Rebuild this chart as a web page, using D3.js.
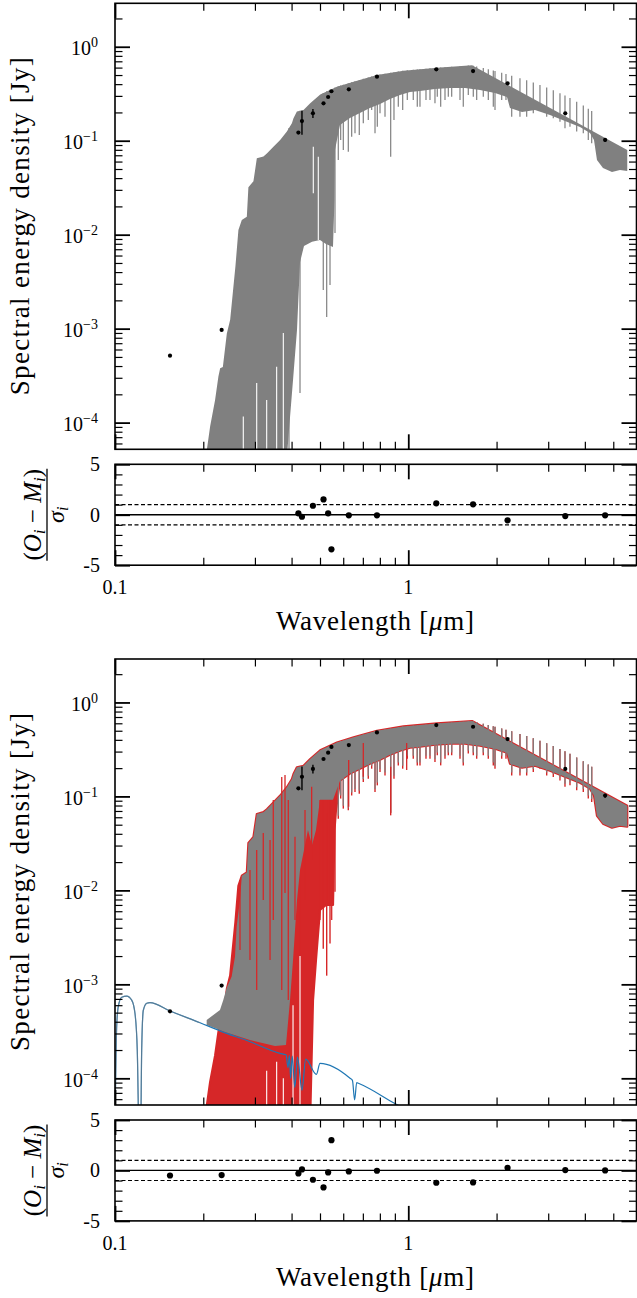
<!DOCTYPE html>
<html>
<head>
<meta charset="utf-8">
<script src="https://cdn.jsdelivr.net/npm/d3@7"></script>
<style>
body { margin: 0; background: #fff; }
svg { display: block; }
</style>
</head>
<body>
<svg id="chart" width="637" height="1298"></svg>
<script>
// photometry (wavelength in micron, flux in Jy)
var photWl  = [0.154, 0.231, 0.422, 0.434, 0.473, 0.514, 0.533, 0.547, 0.627, 0.782, 1.246, 1.663, 2.18, 3.43, 4.69];
var photF   = [5.16e-4, 9.7e-4, 0.122, 0.162, 0.196, 0.25, 0.292, 0.336, 0.352, 0.48, 0.575, 0.551, 0.408, 0.196, 0.102];
var photErr = [0, 0, 0, 0.046, 0.021, 0, 0, 0, 0, 0, 0, 0, 0, 0, 0.005];

// residuals (O-M)/sigma
var residSingleWl = photWl.slice(2);
var residSingle = [0.14, -0.2, 0.89, 1.52, 0.14, -3.43, -0.06, -0.06, 1.13, 1.03, -0.55, -0.13, -0.06];
var residBinary = [-0.5, -0.46, -0.3, 0.1, -0.92, -1.68, -0.2, 3.0, -0.1, -0.03, -1.22, -1.19, 0.27, 0.04, 0.0];

// cool star model: upper edge and solid lower edge of the dense spectrum
var starUpperWl = [0.2056, 0.2110, 0.2194, 0.2252, 0.2283, 0.2332, 0.2406, 0.2470, 0.2574, 0.2635, 0.2706, 0.2815, 0.2850, 0.2965, 0.3045, 0.3207, 0.3294, 0.3469, 0.3657, 0.3855, 0.4010, 0.4060, 0.4170, 0.4393, 0.4630, 0.5009, 0.571, 0.651, 0.782, 0.963, 1.253, 1.650, 5.58];
var starUpperF  = [5.1e-5, 9.1e-5, 1.74e-4, 3.1e-4, 3.8e-4, 3.9e-4, 8.9e-4, 1.24e-3, 4.6e-3, 1.12e-2, 1.43e-2, 1.55e-2, 3.2e-2, 3.7e-2, 6.5e-2, 6.8e-2, 7.3e-2, 8.6e-2, 0.102, 0.125, 0.153, 0.173, 0.204, 0.212, 0.25, 0.31, 0.375, 0.425, 0.50, 0.556, 0.598, 0.634, 0.0796];
var starLowerWl = [0.2054, 0.3828, 0.3920, 0.4046, 0.4174, 0.4274, 0.4410, 0.4696, 0.4999, 0.5241, 0.5537, 0.5603, 0.5625, 0.5849, 0.6325, 0.6841, 0.7400, 0.8009, 0.8661, 0.9369, 1.0134, 1.0962, 1.2331, 1.3876, 1.5611, 1.7562, 1.9755, 2.1703, 2.2220, 2.4421, 2.7040, 3.0414, 3.4222, 3.8499, 4.1648, 4.2971, 4.3992, 4.6116, 4.9490, 5.2697, 5.58];
var starLowerF  = [3.1e-5, 3.1e-5, 8.4e-5, 2.84e-4, 9.7e-4, 5.1e-3, 7.6e-3, 8.4e-3, 8.8e-3, 7.95e-3, 7.4e-3, 2.34e-2, 0.0797, 0.147, 0.175, 0.197, 0.223, 0.246, 0.278, 0.307, 0.330, 0.338, 0.355, 0.364, 0.364, 0.347, 0.322, 0.292, 0.223, 0.202, 0.212, 0.188, 0.162, 0.140, 0.121, 0.102, 0.0623, 0.0513, 0.0465, 0.0488, 0.0476];
// single absorption lines below the solid edge: wavelength, deepest flux
var starLineWl = [0.3920, 0.4274, 0.5130, 0.5270, 0.5409, 0.5625, 0.5772, 0.5882, 0.6004, 0.6244, 0.6412, 0.6581, 0.6806, 0.7024, 0.7305, 0.7503, 0.7701, 0.7841, 0.8009, 0.8330, 0.8710, 0.8938, 0.9246, 0.9571, 0.9922, 1.0399, 1.0732, 1.0962, 1.1491, 1.1858, 1.2331, 1.2557, 1.2897, 1.3341, 1.3692, 1.4061, 1.5008, 1.5400, 1.6018, 1.6659, 1.7110, 1.8020, 1.8743, 1.9493, 1.9755, 2.0821, 2.1534, 2.2524, 2.4033, 2.5334, 2.6683, 2.8119, 2.9644, 3.1220, 3.2902, 3.4222, 3.5591, 3.7517, 3.9512, 4.1092, 4.2207];
var starLineF  = [4e-5, 2.07e-4, 2.58e-3, 1.33e-3, 2.92e-3, 1.04e-2, 0.0623, 0.102, 0.0797, 0.0764, 0.110, 0.120, 0.115, 0.153, 0.166, 0.212, 0.120, 0.141, 0.196, 0.180, 0.0676, 0.166, 0.230, 0.212, 0.271, 0.271, 0.230, 0.230, 0.271, 0.271, 0.250, 0.294, 0.230, 0.271, 0.294, 0.294, 0.271, 0.230, 0.307, 0.294, 0.271, 0.294, 0.271, 0.230, 0.212, 0.271, 0.271, 0.180, 0.180, 0.180, 0.196, 0.212, 0.180, 0.173, 0.159, 0.136, 0.141, 0.125, 0.120, 0.102, 0.0939];
// narrow gaps between lines: wavelength, top flux, bottom flux
var gapWl  = [0.2738, 0.3042, 0.3290, 0.3558, 0.3749, 0.4744, 0.4934];
var gapTop = [1.16e-4, 2.64e-4, 1.74e-4, 3.94e-4, 9e-4, 0.0863, 0.0676];
var gapBot = [3e-5, 3e-5, 3e-5, 3e-5, 3e-5, 0.0276, 8.8e-3];

// star + white dwarf total (grey in the lower figure)
var totUpperUvWl = [0.2054, 0.2164, 0.2280, 0.2340, 0.2403, 0.2499, 0.2565, 0.2599, 0.2668];
var totUpperUvF  = [4.18e-4, 4.72e-4, 5.33e-4, 6.82e-4, 9.15e-4, 1.21e-3, 1.97e-3, 4.1e-3, 7.9e-3];
var totLowerWl = [0.2054, 0.2371, 0.2886, 0.3512, 0.3828, 0.3952, 0.4046, 0.4174, 0.4274, 0.4410, 0.4550, 0.4696, 0.4845, 0.4999, 0.5537];
var totLowerF  = [3.7e-4, 3.11e-4, 2.56e-4, 2.21e-4, 2.26e-4, 6.8e-4, 1.82e-3, 7.9e-3, 1.65e-2, 2.69e-2, 4.4e-2, 3.04e-2, 4.4e-2, 9.2e-2, 9.2e-2];

// star component in the lower figure (red): its own lower edge in the blue
var redLowerWl = [0.2054, 0.4623, 0.4733, 0.4845, 0.4999, 0.5241, 0.5537, 0.5603, 0.5669];
var redLowerF  = [3.1e-5, 3.1e-5, 6.8e-4, 1.82e-3, 6.2e-3, 7.0e-3, 7.0e-3, 0.044, 0.0717];
// red lines seen on top of the grey total
var redLineWl  = [0.2668, 0.2886, 0.3042, 0.3203, 0.3378, 0.3465, 0.3703, 0.3799, 0.3898, 0.4109, 0.4445, 0.4683, 0.4999, 0.5270, 0.5481, 0.6263, 0.7025, 0.871, 0.9875];
var redLineTop = [1.29e-2, 0.0165, 0.0269, 0.0408, 0.0344, 0.0916, 0.161, 0.169, 0.0916, 0.0373, 0.0717, 0.127, 0.0916, 0.0666, 0.0476, 0.244, 0.37, 0.207, 0.37];
var redLineBot = [2.32e-3, 1.82e-3, 8.7e-4, 7.9e-3, 1.82e-3, 4.84e-3, 8.7e-4, 9.4e-3, 6.8e-4, 4.84e-3, 7.9e-3, 0.021, 4.84e-3, 7.9e-3, 4.84e-3, 0.0778, 0.162, 0.0666, 0.191];
// gaps in the red below the white dwarf level
var redGapWl  = [0.3290, 0.3558, 0.3749, 0.4046, 0.4274];
var redGapTop = [1.2e-4, 1.5e-4, 1.0e-4, 6e-4, 2e-3];
var redGapBot = [3e-5, 3e-5, 3e-5, 3e-5, 3e-5];

// white dwarf model
var wdWl = [0.1000, 0.1013, 0.1026, 0.1054, 0.1096, 0.1140, 0.1170, 0.1191, 0.1210, 0.1222, 0.1233, 0.1249, 0.1283, 0.1316, 0.154, 0.195, 0.228, 0.289, 0.365, 0.383, 0.3889, 0.393, 0.3970, 0.402, 0.4102, 0.419, 0.4341, 0.447, 0.4861, 0.50, 0.633, 0.645, 0.6563, 0.667, 0.676, 0.9, 1.0];
var wdF  = [3e-5, 3.5e-4, 5.8e-4, 7.3e-4, 7.5e-4, 6.8e-4, 4.9e-4, 2.0e-4, 2e-5, 2e-5, 2.0e-4, 5.3e-4, 6.3e-4, 6.4e-4, 5.2e-4, 3.9e-4, 3.2e-4, 2.45e-4, 1.84e-4, 1.78e-4, 1.3e-4, 1.76e-4, 1.0e-4, 1.72e-4, 8e-5, 1.68e-4, 7.5e-5, 1.6e-4, 1.1e-4, 1.44e-4, 1.0e-4, 9.5e-5, 5.9e-5, 9.0e-5, 8.85e-5, 5.4e-5, 4.5e-5];

var xMajor = [0.1, 1];
var xMinor = [0.2, 0.3, 0.4, 0.5, 0.6, 0.7, 0.8, 0.9, 2, 3, 4, 5, 6];
var yMajor = [1e-4, 1e-3, 1e-2, 1e-1, 1];
var yExp = [-4, -3, -2, -1, 0];
var rMajor = [-5, 0, 5];
var rMinor = [-4, -3, -2, -1, 1, 2, 3, 4];

var grey = "#808080", red = "#d62728", blue = "#1f77b4";
var L = 115, R = 636.5, T = 3.3, B = 449.3, RT = 464.3, RB = 565.2;

// first serif family that is really installed
function pickFont(list) {
    var c = document.createElement("canvas").getContext("2d");
    var s = "Wavelength density mmmwwwlli 0123456789";
    for (var i = 0; i < list.length; i++) {
        var hit = ["monospace", "sans-serif"].every(function(base) {
            c.font = "40px " + base;
            var w0 = c.measureText(s).width;
            c.font = "40px '" + list[i] + "', " + base;
            return c.measureText(s).width != w0;
        });
        if (hit) return "'" + list[i] + "'";
    }
    return "serif";
}
var font = pickFont(["Liberation Serif", "DejaVu Serif", "Noto Serif", "Tinos", "Times New Roman", "FreeSerif", "Nimbus Roman"]);

var svg = d3.select("#chart");
var x = d3.scaleLog().domain([0.1, 6]).range([L, R]);
var y = d3.scaleLog().domain([5.2e-5, 2.9]).range([B, T]);
var r = d3.scaleLinear().domain([-5, 5]).range([RB, RT]);

var yMinor = [];
for (var e = -5; e <= 0; e++) for (var k = 2; k <= 9; k++) {
    var v = k * Math.pow(10, e);
    if (v > 5.2e-5 && v < 2.9) yMinor.push(v);
}

function zip(a, b) { return a.map(function(d, i) { return [d, b[i]]; }); }
var line = d3.line().x(function(d) { return x(d[0]); }).y(function(d) { return y(d[1]); });
function band(upper, lower) { return line(upper.concat(lower.slice().reverse())) + "Z"; }
var upInterp = d3.scaleLog().domain(starUpperWl).range(starUpperF).clamp(true);

function vlines(p, wl, top, bot, color, w) {
    p.append("g").selectAll("line").data(wl).enter().append("line")
        .attr("x1", function(d) { return x(d); }).attr("x2", function(d) { return x(d); })
        .attr("y1", function(d, i) { return y(top(d, i)); }).attr("y2", function(d, i) { return y(bot[i]); })
        .attr("stroke", color).attr("stroke-width", w);
}

function ticks(g, scale, orient, pos, majors, minors) {
    var mk = {left: d3.axisLeft, right: d3.axisRight, top: d3.axisTop, bottom: d3.axisBottom}[orient];
    var tr = (orient == "left" || orient == "right") ? "translate(" + pos + ",0)" : "translate(0," + pos + ")";
    [[majors, 15, 1.8], [minors, 7.5, 1.2]].forEach(function(t) {
        g.append("g").attr("transform", tr)
            .call(mk(scale).tickValues(t[0]).tickSizeInner(-t[1]).tickSizeOuter(0).tickFormat(""))
            .call(function(s) { s.select(".domain").remove(); })
            .selectAll("line").attr("stroke", "#000").attr("stroke-width", t[2]);
    });
}

function figure(off, id, binary) {
    var g = svg.append("g").attr("transform", "translate(0," + off + ")");
    g.append("clipPath").attr("id", "clip" + id)
        .append("rect").attr("x", L).attr("y", T).attr("width", R - L).attr("height", B - T);
    var p = g.append("g").attr("clip-path", "url(#clip" + id + ")");

    var starUp = zip(starUpperWl, starUpperF), starLo = zip(starLowerWl, starLowerF);
    var fromTop = function(d) { return upInterp(d); };

    if (!binary) {
        p.append("path").attr("d", band(starUp, starLo)).attr("fill", grey);
        vlines(p, starLineWl, fromTop, starLineF, grey, 1.2);
        vlines(p, gapWl, function(d, i) { return gapTop[i]; }, gapBot, "#fff", 1.1);
    } else {
        var redLo = zip(redLowerWl, redLowerF).concat(starLo.filter(function(d) { return d[0] > 0.57; }));
        p.append("path").attr("d", band(starUp, redLo)).attr("fill", red)
            .attr("stroke", red).attr("stroke-width", 2.2).attr("stroke-linejoin", "round");
        vlines(p, starLineWl, fromTop, starLineF.map(function(f) { return f * 0.93; }), red, 1.4);
        vlines(p, redGapWl, function(d, i) { return redGapTop[i]; }, redGapBot, "#fff", 1.1);
        var totUp = zip(totUpperUvWl, totUpperUvF).concat(starUp.filter(function(d) { return d[0] > 0.268; }));
        var totLo = zip(totLowerWl, totLowerF).concat(starLo.filter(function(d) { return d[0] > 0.57; }));
        p.append("path").attr("d", band(totUp, totLo)).attr("fill", grey);
        vlines(p, starLineWl.filter(function(d) { return d > 0.57; }), fromTop,
            starLineF.filter(function(d, i) { return starLineWl[i] > 0.57; }), grey, 1.2);
        vlines(p, redLineWl, function(d, i) { return redLineTop[i]; }, redLineBot, red, 1.3);
        var wdLine = d3.line().curve(d3.curveMonotoneX)
            .x(function(d) { return x(d[0]); }).y(function(d) { return y(d[1]); });
        var wd = zip(wdWl, wdF);
        p.append("path").attr("d", wdLine(wd)).attr("fill", "none").attr("stroke", blue).attr("stroke-width", 1.2);
        p.append("path").attr("d", wdLine(wd.filter(function(d) { return d[0] < 0.21; })))
            .attr("fill", "none").attr("stroke", grey).attr("stroke-opacity", 0.55).attr("stroke-width", 1.2);
    }

    // photometry with error bars
    var ph = photWl.map(function(d, i) { return {wl: d, f: photF[i], e: photErr[i]}; });
    p.selectAll(".eb").data(ph.filter(function(d) { return d.e > 0; })).enter().append("line")
        .attr("x1", function(d) { return x(d.wl); }).attr("x2", function(d) { return x(d.wl); })
        .attr("y1", function(d) { return y(d.f - d.e); }).attr("y2", function(d) { return y(d.f + d.e); })
        .attr("stroke", "#000").attr("stroke-width", 1.4);
    p.selectAll(".pt").data(ph).enter().append("circle")
        .attr("cx", function(d) { return x(d.wl); }).attr("cy", function(d) { return y(d.f); })
        .attr("r", 2.1).attr("fill", "#000");

    ticks(g, y, "left", L, yMajor, yMinor);
    ticks(g, y, "right", R, yMajor, yMinor);
    ticks(g, x, "top", T, xMajor, xMinor);
    ticks(g, x, "bottom", B, xMajor, xMinor);
    g.append("rect").attr("x", L).attr("y", T).attr("width", R - L).attr("height", B - T)
        .attr("fill", "none").attr("stroke", "#000").attr("stroke-width", 1.6);

    yMajor.forEach(function(v, i) {
        var t = g.append("text").attr("x", 98).attr("y", y(v) + 8.5).attr("text-anchor", "end").attr("font-size", 20).text("10");
        t.append("tspan").attr("dy", -8).attr("font-size", 14).text(yExp[i] < 0 ? "\u2212" + (-yExp[i]) : yExp[i]);
    });
    g.append("text").attr("transform", "translate(29," + ((T + B) / 2) + ") rotate(-90)")
        .attr("text-anchor", "middle").attr("font-size", 27)
        .attr("textLength", 338).attr("lengthAdjust", "spacing")
        .text("Spectral energy density [Jy]");

    // residual panel
    var rv = binary ? residBinary : residSingle;
    var rw = binary ? photWl : residSingleWl;
    g.append("line").attr("x1", L).attr("x2", R).attr("y1", r(0)).attr("y2", r(0))
        .attr("stroke", "#000").attr("stroke-width", 1.3);
    [1, -1].forEach(function(v) {
        g.append("line").attr("x1", L).attr("x2", R).attr("y1", r(v)).attr("y2", r(v))
            .attr("stroke", "#000").attr("stroke-width", 1.1).attr("stroke-dasharray", "4,2.5");
    });
    g.selectAll(".rp").data(rv).enter().append("circle")
        .attr("cx", function(d, i) { return x(rw[i]); }).attr("cy", function(d) { return r(d); })
        .attr("r", 3.1).attr("fill", "#000");

    ticks(g, r, "left", L, rMajor, rMinor);
    ticks(g, r, "right", R, rMajor, rMinor);
    ticks(g, x, "top", RT, xMajor, xMinor);
    ticks(g, x, "bottom", RB, xMajor, xMinor);
    g.append("rect").attr("x", L).attr("y", RT).attr("width", R - L).attr("height", RB - RT)
        .attr("fill", "none").attr("stroke", "#000").attr("stroke-width", 1.6);

    rMajor.forEach(function(v) {
        g.append("text").attr("x", 100).attr("y", r(v) + 7).attr("text-anchor", "end")
            .attr("font-size", 20).text(v);
    });
    xMajor.forEach(function(v) {
        g.append("text").attr("x", x(v)).attr("y", RB + 29).attr("text-anchor", "middle")
            .attr("font-size", 20).text(v);
    });
    var xl = g.append("text").attr("x", 375).attr("y", 630).attr("text-anchor", "middle").attr("font-size", 27)
        .attr("textLength", 198).attr("lengthAdjust", "spacing");
    xl.append("tspan").text("Wavelength [");
    xl.append("tspan").attr("font-style", "italic").text("\u03bc");
    xl.append("tspan").text("m]");

    // (O_i - M_i) / sigma_i
    var fr = g.append("g").attr("transform", "translate(0," + ((RT + RB) / 2) + ") rotate(-90)");
    var num = fr.append("text").attr("x", 0).attr("y", 41).attr("text-anchor", "middle").attr("font-size", 25);
    num.append("tspan").text("(");
    num.append("tspan").attr("font-style", "italic").text("O");
    num.append("tspan").attr("font-style", "italic").attr("font-size", 17).attr("dy", 4).text("i");
    num.append("tspan").attr("dy", -4).text(" \u2212 ");
    num.append("tspan").attr("font-style", "italic").text("M");
    num.append("tspan").attr("font-style", "italic").attr("font-size", 17).attr("dy", 4).text("i");
    num.append("tspan").attr("dy", -4).text(")");
    fr.append("line").attr("x1", -46).attr("x2", 46).attr("y1", 47).attr("y2", 47)
        .attr("stroke", "#000").attr("stroke-width", 1.3);
    var den = fr.append("text").attr("x", 0).attr("y", 64).attr("text-anchor", "middle").attr("font-size", 24);
    den.append("tspan").attr("font-style", "italic").text("\u03c3");
    den.append("tspan").attr("font-style", "italic").attr("font-size", 16).attr("dy", 4).text("i");
}

figure(0, "a", false);
figure(655.7, "b", true);
svg.selectAll("text").attr("font-family", font);
</script>
</body>
</html>
